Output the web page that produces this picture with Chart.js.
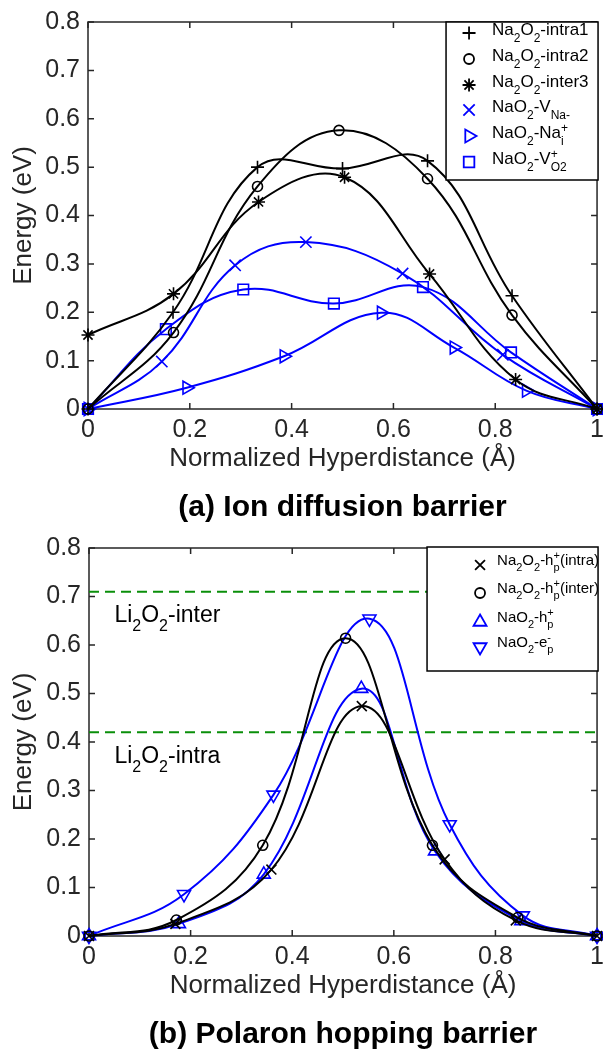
<!DOCTYPE html>
<html>
<head>
<meta charset="utf-8">
<script src="https://cdn.jsdelivr.net/npm/chart.js@4.4.1/dist/chart.umd.min.js"></script>
<style>
  html, body { margin: 0; padding: 0; background: #fff; overflow: hidden; }
  canvas { display: block; }
</style>
</head>
<body>
<canvas id="chartA" width="613" height="526"></canvas>
<canvas id="chartB" width="613" height="527"></canvas>
<script>
// ---- data: (a) ion diffusion barrier ----
var intra1X = [0, 0.167, 0.333, 0.500, 0.667, 0.833, 1];
var intra1Y = [0, 0.200, 0.500, 0.497, 0.513, 0.234, 0];
var intra2X = [0, 0.168, 0.333, 0.493, 0.667, 0.833, 1];
var intra2Y = [0, 0.158, 0.460, 0.576, 0.476, 0.194, 0];
var inter3X = [0, 0.168, 0.335, 0.504, 0.671, 0.840, 1];
var inter3Y = [0.153, 0.238, 0.428, 0.479, 0.279, 0.061, 0];
var vNaX = [0, 0.145, 0.289, 0.428, 0.618, 0.815, 1];
var vNaY = [0, 0.098, 0.297, 0.345, 0.280, 0.112, 0];
var naiX = [0, 0.194, 0.385, 0.576, 0.719, 0.861, 1];
var naiY = [0, 0.044, 0.109, 0.199, 0.127, 0.038, 0];
var vO2X = [0, 0.153, 0.305, 0.483, 0.658, 0.831, 1];
var vO2Y = [0, 0.165, 0.247, 0.218, 0.252, 0.117, 0];

// ---- data: (b) polaron hopping barrier ----
var hIntraX = [0, 0.170, 0.359, 0.537, 0.700, 0.840, 1];
var hIntraY = [0, 0.025, 0.137, 0.474, 0.158, 0.032, 0];
var hInterX = [0, 0.172, 0.342, 0.505, 0.676, 0.844, 1];
var hInterY = [0, 0.033, 0.187, 0.614, 0.187, 0.038, 0];
var hNaX = [0, 0.177, 0.344, 0.536, 0.681, 0.851, 1];
var hNaY = [0, 0.025, 0.127, 0.510, 0.175, 0.031, 0];
var eNaX = [0, 0.187, 0.363, 0.552, 0.710, 0.854, 1];
var eNaY = [0, 0.086, 0.291, 0.654, 0.230, 0.042, 0];

// Li2O2 reference barriers (green dashed)
var li2o2Levels = [0.71, 0.42];
var li2o2Names = [
  [['Li', ''], ['2', 'sub'], ['O', ''], ['2', 'sub'], ['-inter', '']],
  [['Li', ''], ['2', 'sub'], ['O', ''], ['2', 'sub'], ['-intra', '']]
];
var li2o2LabelPos = [[0.05, 0.648], [0.05, 0.357]];

// legend texts (sub / superscripts)
var legendA = [
  [['Na', ''], ['2', 'sub'], ['O', ''], ['2', 'sub'], ['-intra1', '']],
  [['Na', ''], ['2', 'sub'], ['O', ''], ['2', 'sub'], ['-intra2', '']],
  [['Na', ''], ['2', 'sub'], ['O', ''], ['2', 'sub'], ['-inter3', '']],
  [['NaO', ''], ['2', 'sub'], ['-V', ''], ['Na-', 'sub']],
  [['NaO', ''], ['2', 'sub'], ['-Na', ''], ['i', 'subsup', '+']],
  [['NaO', ''], ['2', 'sub'], ['-V', ''], ['O2', 'subsup', '+']]
];
var legendB = [
  [['Na', ''], ['2', 'sub'], ['O', ''], ['2', 'sub'], ['-h', ''], ['p', 'subsup', '+'], ['(intra)', '']],
  [['Na', ''], ['2', 'sub'], ['O', ''], ['2', 'sub'], ['-h', ''], ['p', 'subsup', '+'], ['(inter)', '']],
  [['NaO', ''], ['2', 'sub'], ['-h', ''], ['p', 'subsup', '+']],
  [['NaO', ''], ['2', 'sub'], ['-e', ''], ['p', 'subsup', '-']]
];

var FONT = "'Liberation Sans', Arial, Helvetica, sans-serif";
var GREY = '#262626';
var BLUE = '#0000ff';
var BLACK = '#000000';

function pts(xs, ys) {
  return xs.map(function (x, i) { return { x: x, y: ys[i] }; });
}

function series(label, xs, ys, color, style, radius, rotation) {
  return {
    label: label,
    data: pts(xs, ys),
    borderColor: color,
    borderWidth: 2,
    pointStyle: style,
    pointRadius: radius,
    pointRotation: rotation || 0,
    pointBorderColor: color,
    pointBackgroundColor: 'rgba(0,0,0,0)',
    pointBorderWidth: 1.6,
    tension: 0.4,
    fill: false,
    clip: false
  };
}

// draws text with simple sub / superscripts, y = baseline
function drawRich(ctx, segs, x, y, size, color) {
  var small = Math.round(size * 0.7);
  ctx.fillStyle = color;
  ctx.textAlign = 'left';
  ctx.textBaseline = 'alphabetic';
  segs.forEach(function (s) {
    var t = s[0], mode = s[1];
    if (mode === 'sub') {
      ctx.font = small + 'px ' + FONT;
      ctx.fillText(t, x, y + size * 0.4);
      x += ctx.measureText(t).width;
    } else if (mode === 'subsup') {
      ctx.font = small + 'px ' + FONT;
      ctx.fillText(t, x, y + size * 0.4);
      ctx.fillText(s[2], x, y - size * 0.38);
      x += Math.max(ctx.measureText(t).width, ctx.measureText(s[2]).width);
    } else {
      ctx.font = size + 'px ' + FONT;
      ctx.fillText(t, x, y);
      x += ctx.measureText(t).width;
    }
  });
}

// box round the axes with inward tick marks
var frameTicks = {
  id: 'frameTicks',
  beforeDatasetsDraw: function (chart) {
    var a = chart.chartArea, ctx = chart.ctx;
    var xs = chart.scales.x, ys = chart.scales.y;
    ctx.save();
    ctx.strokeStyle = GREY;
    ctx.lineWidth = 1.5;
    ctx.strokeRect(a.left, a.top, a.right - a.left, a.bottom - a.top);
    ctx.beginPath();
    xs.ticks.forEach(function (t) {
      var px = xs.getPixelForValue(t.value);
      ctx.moveTo(px, a.bottom); ctx.lineTo(px, a.bottom - 6);
      ctx.moveTo(px, a.top); ctx.lineTo(px, a.top + 6);
    });
    ys.ticks.forEach(function (t) {
      var py = ys.getPixelForValue(t.value);
      ctx.moveTo(a.left, py); ctx.lineTo(a.left + 6, py);
      ctx.moveTo(a.right, py); ctx.lineTo(a.right - 6, py);
    });
    ctx.stroke();
    ctx.restore();
  }
};

function makeLegend(texts, first, geo) {
  return {
    id: 'richLegend',
    afterDraw: function (chart) {
      var ctx = chart.ctx, a = chart.chartArea;
      var right = a.right + 1;
      var left = right - geo.width;
      ctx.save();
      ctx.fillStyle = '#fff';
      ctx.fillRect(left, geo.top, geo.width, geo.height);
      ctx.strokeStyle = BLACK;
      ctx.lineWidth = 1.5;
      ctx.strokeRect(left, geo.top, geo.width, geo.height);
      texts.forEach(function (segs, i) {
        var ds = chart.data.datasets[first + i];
        var y = geo.top + geo.rows[i];
        ctx.strokeStyle = ds.borderColor;
        ctx.fillStyle = 'rgba(0,0,0,0)';
        ctx.lineWidth = 1.8;
        Chart.helpers.drawPoint(ctx, {
          pointStyle: ds.pointStyle, rotation: ds.pointRotation,
          radius: ds.pointRadius, borderWidth: 1.8
        }, left + geo.markerX, y);
        drawRich(ctx, segs, left + geo.textX, y + geo.base, geo.size, BLACK);
      });
      ctx.restore();
    }
  };
}

var li2o2Labels = {
  id: 'li2o2Labels',
  afterDatasetsDraw: function (chart) {
    var ctx = chart.ctx, xs = chart.scales.x, ys = chart.scales.y;
    ctx.save();
    li2o2Names.forEach(function (segs, i) {
      drawRich(ctx, segs, xs.getPixelForValue(li2o2LabelPos[i][0]),
        ys.getPixelForValue(li2o2LabelPos[i][1]), 23, BLACK);
    });
    ctx.restore();
  }
};

function tickText(v) {
  return String(+v.toFixed(2));
}

function options(title, yWidth, padTop, padBottom, titlePad) {
  return {
    responsive: false,
    animation: false,
    events: [],
    layout: { padding: { left: 0, right: 0, top: padTop, bottom: padBottom } },
    scales: {
      x: {
        type: 'linear', min: 0, max: 1,
        grid: { display: false, drawTicks: false },
        border: { display: false },
        ticks: { stepSize: 0.2, padding: 9, color: GREY, callback: tickText,
          font: { family: FONT, size: 25, lineHeight: 1 } },
        title: { display: true, text: 'Normalized Hyperdistance (Å)', color: GREY,
          font: { family: FONT, size: 26, lineHeight: 1 }, padding: { top: -6, bottom: 0 } }
      },
      y: {
        min: 0, max: 0.8,
        grid: { display: false, drawTicks: false },
        border: { display: false },
        ticks: { stepSize: 0.1, padding: 8, color: GREY, callback: tickText,
          font: { family: FONT, size: 25, lineHeight: 1 } },
        title: { display: true, text: 'Energy (eV)', color: GREY,
          font: { family: FONT, size: 26, lineHeight: 1 }, padding: { top: 11, bottom: 0 } },
        afterFit: function (s) { s.width = yWidth; }
      }
    },
    plugins: {
      legend: { display: false },
      tooltip: { enabled: false },
      title: {
        display: true, text: title, position: 'bottom', fullSize: false, color: BLACK,
        font: { family: FONT, size: 30, weight: 'bold', lineHeight: 1.2 },
        padding: { top: titlePad, bottom: 0 }
      }
    }
  };
}

new Chart(document.getElementById('chartA'), {
  type: 'line',
  data: {
    datasets: [
      series('Na2O2-intra1', intra1X, intra1Y, BLACK, 'cross', 6.5),
      series('Na2O2-intra2', intra2X, intra2Y, BLACK, 'circle', 5),
      series('Na2O2-inter3', inter3X, inter3Y, BLACK, 'star', 6.5),
      series('NaO2-VNa-', vNaX, vNaY, BLUE, 'crossRot', 8),
      series('NaO2-Nai+', naiX, naiY, BLUE, 'triangle', 7.5, 90),
      series('NaO2-VO2+', vO2X, vO2Y, BLUE, 'rect', 7.5)
    ]
  },
  options: options('(a) Ion diffusion barrier', 88, 22, 0, 18),
  plugins: [frameTicks, makeLegend(legendA, 0, {
    width: 152, top: 22, height: 158, markerX: 23, textX: 46, base: 2, size: 17,
    rows: [11, 37, 63, 88, 114, 140]
  })]
});

var refLines = li2o2Levels.map(function (v) {
  return {
    label: 'Li2O2',
    data: [{ x: 0, y: v }, { x: 1, y: v }],
    borderColor: '#0a8f0a',
    borderWidth: 2,
    borderDash: [10, 6],
    pointRadius: 0,
    fill: false
  };
});

new Chart(document.getElementById('chartB'), {
  type: 'line',
  data: {
    datasets: [
      series('Na2O2-hp+(intra)', hIntraX, hIntraY, BLACK, 'crossRot', 7),
      series('Na2O2-hp+(inter)', hInterX, hInterY, BLACK, 'circle', 5),
      series('NaO2-hp+', hNaX, hNaY, BLUE, 'triangle', 7.5),
      series('NaO2-ep-', eNaX, eNaY, BLUE, 'triangle', 7.5, 180)
    ].concat(refLines)
  },
  options: options('(b) Polaron hopping barrier', 89, 22, 0, 18),
  plugins: [frameTicks, li2o2Labels, makeLegend(legendB, 0, {
    width: 171, top: 21, height: 124, markerX: 53, textX: 70, base: 0, size: 15,
    rows: [18, 46, 75, 100]
  })]
});
</script>
</body>
</html>
